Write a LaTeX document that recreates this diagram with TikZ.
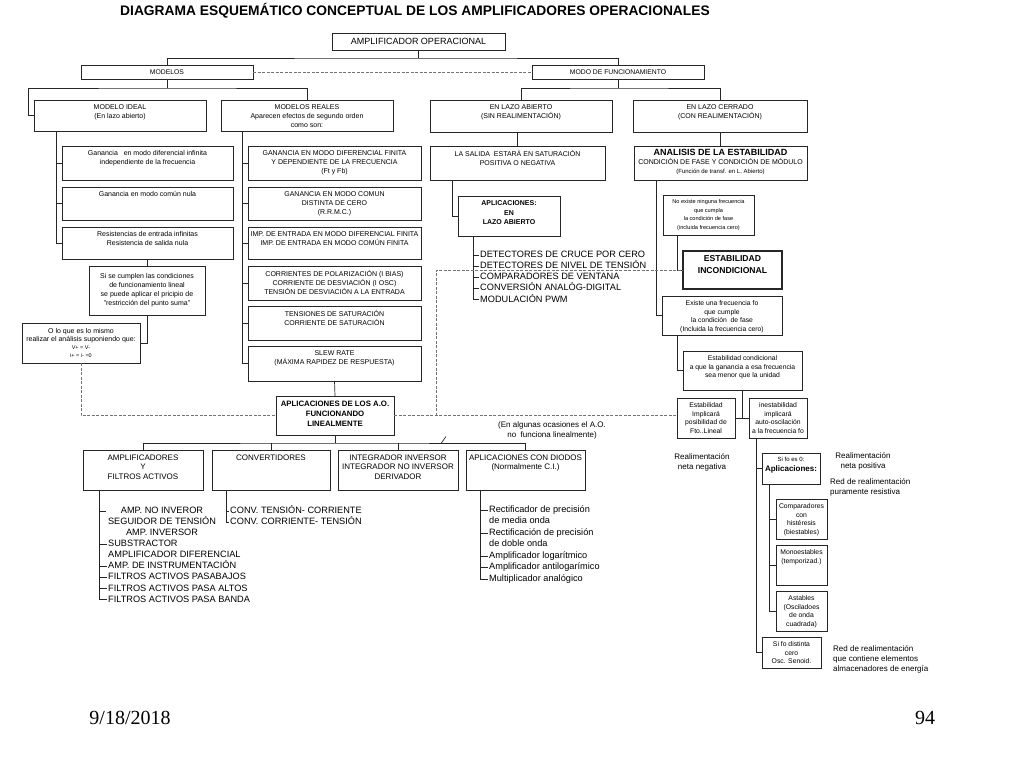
\documentclass[tikz,border=0pt]{standalone}
\usepackage{fontspec}
\setmainfont{Liberation Sans}
\newfontfamily\fechafont{Liberation Serif}

% caja: [estilo del texto]{nombre}{x1}{y1}{x2}{y2}{texto}
\newcommand\caja[7][txt]{%
  \node[caja, minimum width={(#5-#3)*1pt}, minimum height={(#6-#4)*1pt}]
    (#2) at ({(#3+#5)/2},{(#4+#6)/2}) {};
  \node[#1] (#2-t) at (#2.north) {#7};}

\tikzset{
  caja/.style={draw=black!85, line width=0.7pt, inner sep=0pt, outer sep=0pt},
  linea/.style={draw=black!85, line width=0.7pt},
  punteado/.style={draw=black!55, line width=0.7pt, dash pattern=on 3pt off 1.5pt},
  txt/.style={anchor=north, align=center, inner xsep=1pt, inner ysep=4.5pt,
    font=\fontsize{7}{9}\selectfont},
  txtc/.style={txt, anchor=center, yshift=-7pt},
  txtp/.style={txt, font=\fontsize{5.6}{8.5}\selectfont},
  txtm/.style={txt, font=\fontsize{6.8}{8.6}\selectfont},
  txtg/.style={txt, font=\fontsize{8}{9.5}\selectfont},
  txtb/.style={txt, font=\bfseries\fontsize{7.8}{10}\selectfont},
  item/.style={anchor=west, inner sep=1pt, text height=6.6pt, text depth=1.9pt,
    font=\fontsize{9.2}{11}\selectfont},
  etiq/.style={align=center, inner sep=1pt, font=\fontsize{8}{10}\selectfont},
  titulo/.style={font=\bfseries\fontsize{13.8}{16}\selectfont},
  fecha/.style={font=\fechafont\fontsize{20}{24}\selectfont}
}

\begin{document}
\begin{tikzpicture}[x=1pt, y=-1pt]
  \useasboundingbox (0,0) rectangle (1024,768);

  \node[titulo] (tit) at (415,11) {DIAGRAMA ESQUEMÁTICO CONCEPTUAL DE LOS AMPLIFICADORES OPERACIONALES};

  %% nivel superior
  \caja[txtc, yshift=-1.5pt, font=\fontsize{9}{11}\selectfont]{ao}{332}{33}{505}{50}{AMPLIFICADOR OPERACIONAL}
  \caja[txtc, font=\fontsize{6.8}{8}\selectfont]{modelos}{81}{65}{253}{79}{MODELOS}
  \caja[txtc, font=\fontsize{6.8}{8}\selectfont]{modo}{532}{65}{704}{79}{MODO DE FUNCIONAMIENTO}

  \caja{ideal}{34}{100}{206}{131}{MODELO IDEAL\\(En lazo abierto)}
  \caja{reales}{221}{100}{393}{131}{MODELOS REALES\\Aparecen efectos de segundo orden\\como son:}
  \caja{abierto}{430}{100}{612}{132}{EN LAZO ABIERTO\\(SIN REALIMENTACIÓN)}
  \caja{cerrado}{633}{100}{807}{132}{EN LAZO CERRADO\\(CON REALIMENTACIÓN)}
  \caja{salida}{430}{146}{605}{180}{LA SALIDA \ ESTARÁ EN SATURACIÓN\\POSITIVA O NEGATIVA}
  \caja[txt, inner ysep=3pt]{analisis}{634}{146}{807}{180}{{\bfseries\fontsize{9}{10}\selectfont ANALISIS DE LA ESTABILIDAD}\\CONDICIÓN DE FASE Y CONDICIÓN DE MÓDULO\\{\fontsize{6}{8}\selectfont (Función de transf. en L. Abierto)}}

  %% modelo ideal
  \caja{g1}{62}{146}{233}{180}{Ganancia \ \ en modo diferencial infinita\\independiente de la frecuencia}
  \caja{g2}{62}{187}{233}{220}{Ganancia en modo común nula}
  \caja{g3}{62}{227}{233}{259}{Resistencias de entrada infinitas\\Resistencia de salida nula}
  \caja[txt, inner ysep=7pt]{cumplen}{89}{266}{205}{315}{Si se cumplen las condiciones\\de funcionamiento lineal\\se puede aplicar el pricipio de\\"restricción del punto suma"}
  \caja[txt, inner ysep=5.5pt, font=\fontsize{7}{7.8}\selectfont]{mismo}{22}{323}{140}{363}{O lo que es lo mismo\\realizar el análisis suponiendo que:\\{\fontsize{5.5}{7}\selectfont V+ = V-}\\{\fontsize{5.5}{7}\selectfont i+ = i- =0}}

  %% modelos reales
  \caja{r1}{248}{146}{421}{180}{GANANCIA EN MODO DIFERENCIAL FINITA\\Y DEPENDIENTE DE LA FRECUENCIA\\(Ft y Fb)}
  \caja{r2}{248}{187}{421}{220}{GANANCIA EN MODO COMUN\\DISTINTA DE CERO\\(R.R.M.C.)}
  \caja{r3}{248}{227}{421}{259}{IMP. DE ENTRADA EN MODO DIFERENCIAL FINITA\\IMP. DE ENTRADA EN MODO COMÚN FINITA}
  \caja{r4}{248}{266}{421}{300}{CORRIENTES DE POLARIZACIÓN (I BIAS)\\CORRIENTE DE DESVIACIÓN (I OSC)\\TENSIÓN DE DESVIACIÓN A LA ENTRADA}
  \caja{r5}{248}{306}{421}{340}{TENSIONES DE SATURACIÓN\\CORRIENTE DE SATURACIÓN}
  \caja{r6}{248}{346}{421}{381}{SLEW RATE\\(MÁXIMA RAPIDEZ DE RESPUESTA)}
  \caja[txtb]{aplin}{276}{396}{394}{435}{APLICACIONES DE LOS A.O.\\FUNCIONANDO\\LINEALMENTE}

  %% lazo abierto y lazo cerrado
  \caja[txtb, font=\bfseries\fontsize{7}{9.5}\selectfont]{aplab}{458}{196}{560}{236}{APLICACIONES:\\EN\\LAZO ABIERTO}
  \caja[txtp]{noexiste}{663}{195}{754}{235}{No existe ninguna frecuencia\\que cumpla\\la condición de fase\\(incluida frecuencia cero)}
  \caja[txt, font=\bfseries\fontsize{8.6}{11.5}\selectfont]{incond}{683}{251}{782}{289}{ESTABILIDAD\\INCONDICIONAL}
  \draw[line width=1.4pt, black!85] (incond.south west) rectangle (incond.north east);
  \caja[txtm]{existe}{662}{296}{782}{335}{Existe una frecuencia fo\\que cumple\\la condición \ de fase\\(Incluida la frecuencia cero)}
  \caja[txtm]{cond}{683}{351}{802}{390}{Estabilidad condicional\\a que la ganancia a esa frecuencia\\sea menor que la unidad}
  \caja[txtm]{estimp}{677}{398}{735}{438}{Estabilidad\\Implicará\\posibilidad de\\Fto..Lineal}
  \caja[txtm]{inest}{749}{398}{807}{438}{inestabilidad\\implicará\\auto-oscilación\\a la frecuencia fo}
  \caja[txtm, inner ysep=3.5pt, font=\fontsize{6}{10.5}\selectfont]{sies0}{762}{453}{820}{484}{Si fo es 0:\\{\bfseries\fontsize{8}{9}\selectfont Aplicaciones:}}
  \caja[txtm]{comp}{776}{499}{827}{539}{Comparadores\\con\\histéresis\\(biestables)}
  \caja[txtm]{mono}{776}{545}{827}{585}{Monoestables\\(temporizad.)}
  \caja[txtm]{astab}{776}{591}{827}{631}{Astables\\(Osciladoes\\de onda\\cuadrada)}
  \caja[txtm]{sino}{762}{637}{821}{668}{Si fo distinta\\cero\\Osc. Senoid.}

  %% aplicaciones lineales
  \caja[txtg]{amps}{83}{450}{203}{490}{AMPLIFICADORES\\Y\\FILTROS ACTIVOS}
  \caja[txtg]{conv}{212}{450}{330}{490}{CONVERTIDORES}
  \caja[txtg]{integ}{338}{450}{458}{490}{INTEGRADOR INVERSOR\\INTEGRADOR NO INVERSOR\\DERIVADOR}
  \caja[txtg]{diodos}{466}{450}{585}{490}{APLICACIONES CON DIODOS\\(Normalmente C.I.)}

  %% listas
  \foreach \t [count=\n] in {DETECTORES DE CRUCE POR CERO, DETECTORES DE NIVEL DE TENSIÓN,
      COMPARADORES DE VENTANA, CONVERSIÓN ANALÓG-DIGITAL, MODULACIÓN PWM}
    \node[item] (d\n) at (479,{255+11.2*(\n-1)}) {\t};
  \foreach \t [count=\n] in {AMP. NO INVEROR, SEGUIDOR DE TENSIÓN, AMP. INVERSOR}
    \node[item, anchor=center] (a\n) at (162,{511+11.1*(\n-1)}) {\t};
  \foreach \t [count=\n from 4] in {SUBSTRACTOR, AMPLIFICADOR DIFERENCIAL, AMP. DE INSTRUMENTACIÓN,
      FILTROS ACTIVOS PASABAJOS, FILTROS ACTIVOS PASA ALTOS, FILTROS ACTIVOS PASA BANDA}
    \node[item] (a\n) at (107,{511+11.1*(\n-1)}) {\t};
  \node[item] (v1) at (229,511) {CONV. TENSIÓN- CORRIENTE};
  \node[item] (v2) at (229,522) {CONV. CORRIENTE- TENSIÓN};
  \foreach \t [count=\n] in {Rectificador de precisión, de media onda, Rectificación de precisión,
      de doble onda, Amplificador logarítmico, Amplificador antilogarímico, Multiplicador analógico}
    \node[item] (t\n) at (488,{510+11.5*(\n-1)}) {\t};

  %% textos sueltos
  \node[etiq] (nolin) at (552,430) {(En algunas ocasiones el A.O.\\no \ funciona linealmente)};
  \node[etiq] (rneg) at (702,462) {Realimentación\\neta negativa};
  \node[etiq] (rpos) at (863,461) {Realimentación\\neta positiva};
  \node[etiq, align=left, anchor=west] (rres) at (829,487) {Red de realimentación\\puramente resistiva};
  \node[etiq, align=left, anchor=west] (ralm) at (832,659) {Red de realimentación\\que contiene elementos\\almacenadores de energía};

  %% conectores superiores
  \path (ao.south) ++(0,8) coordinate (j1);
  \draw[linea] (ao.south) -- (j1);
  \draw[linea] (modelos.north) |- (j1) -| (modo.north);
  \draw[punteado] (modelos.east) -- (modo.west);
  \path (modelos.south) ++(0,9) coordinate (j2);
  \draw[linea] (modelos.south) -- (j2);
  \draw[linea] (ideal.west) -- ++(-6,0) |- (j2) -| (reales.north);
  \path (modo.south) ++(0,9) coordinate (j3);
  \draw[linea] (modo.south) -- (j3);
  \draw[linea] (abierto.north) |- (j3) -| (cerrado.north);
  \draw[linea] (salida.north) -- (salida.north |- abierto.south);
  \draw[linea] (analisis.north) -- (analisis.north |- cerrado.south);

  %% columna modelo ideal
  \coordinate (ci) at ([xshift=22pt]ideal.south west);
  \draw[linea] (ci) |- (g3.west);
  \foreach \n in {g1,g2} \draw[linea] (ci |- \n.west) -- (\n.west);
  \draw[linea] (cumplen.north) -- (cumplen.north |- g3.south);
  \draw[linea] (cumplen.south) |- (mismo.east);

  %% columna modelos reales
  \coordinate (cr) at ([xshift=21pt]reales.south west);
  \draw[linea] (cr) |- (r6.west);
  \foreach \n in {1,...,5} \draw[linea] (cr |- r\n.west) -- (r\n.west);
  \draw[linea] (r6.south) -- (aplin.north);

  %% lazo abierto
  \draw[linea] ([xshift=22pt]salida.south west) |- (aplab.west);
  \coordinate (cb) at ([xshift=15pt]aplab.south west);
  \draw[linea] (cb) |- (d5.west);
  \foreach \n in {1,...,4} \draw[linea] (cb |- d\n.west) -- (d\n.west);

  %% lazo cerrado
  \draw[linea] ([xshift=22pt]analisis.south west) |- (existe.west);
  \draw[linea] ([xshift=14pt]noexiste.south west) |- (incond.west);
  \draw[linea] ([xshift=15pt]existe.south west) |- (cond.west);
  \draw[linea] (estimp.east) -- (inest.west);
  \draw[linea] (cond.south) -- (cond.south |- estimp.east);
  \coordinate (cn) at ([xshift=7pt]inest.south west);
  \draw[linea] (cn) |- (sino.west);
  \draw[linea] (cn |- sies0.west) -- (sies0.west);
  \coordinate (cs) at ([xshift=7pt]sies0.south west);
  \draw[linea] (cs) |- (astab.west);
  \foreach \n in {comp,mono} \draw[linea] (cs |- \n.west) -- (\n.west);

  %% punteadas
  \draw[punteado] (mismo.south) |- (aplin.west);
  \draw[punteado] (aplin.east) -- (aplin.east -| estimp.west);
  \coordinate (cp) at (436,0);
  \draw[punteado] (cp |- aplin.east) |- (incond.west);

  %% aplicaciones lineales
  \path (aplin.south) ++(0,8) coordinate (j4);
  \draw[linea] (aplin.south) -- (j4);
  \draw[linea] (amps.north) |- (j4) -| (diodos.north);
  \foreach \n in {conv,integ} \draw[linea] (\n.north) -- (\n.north |- j4);
  \coordinate (corte) at (443.5,440);
  \draw[linea] ([shift={(-2.5,3.5)}]corte) -- ([shift={(2.5,-3.5)}]corte);

  \coordinate (ca) at ([xshift=16pt]amps.south west);
  \draw[linea] (ca) |- (a9.west);
  \foreach \n in {4,6,7,8} \draw[linea] (ca |- a\n.west) -- (a\n.west);
  \draw[linea] (ca |- a1) -- ++(7,0);
  \coordinate (cv) at ([xshift=14pt]conv.south west);
  \draw[linea] (cv) |- (v2.west);
  \draw[linea] (cv |- v1.west) -- (v1.west);
  \coordinate (cd) at ([xshift=14pt]diodos.south west);
  \draw[linea] (cd) |- (t7.west);
  \foreach \n in {1,3,5,6} \draw[linea] (cd |- t\n.west) -- (t\n.west);

  %% pie
  \node[fecha] (dia) at (130,718) {9/18/2018};
  \node[fecha] (pag) at (925,718) {94};

\end{tikzpicture}
\end{document}
